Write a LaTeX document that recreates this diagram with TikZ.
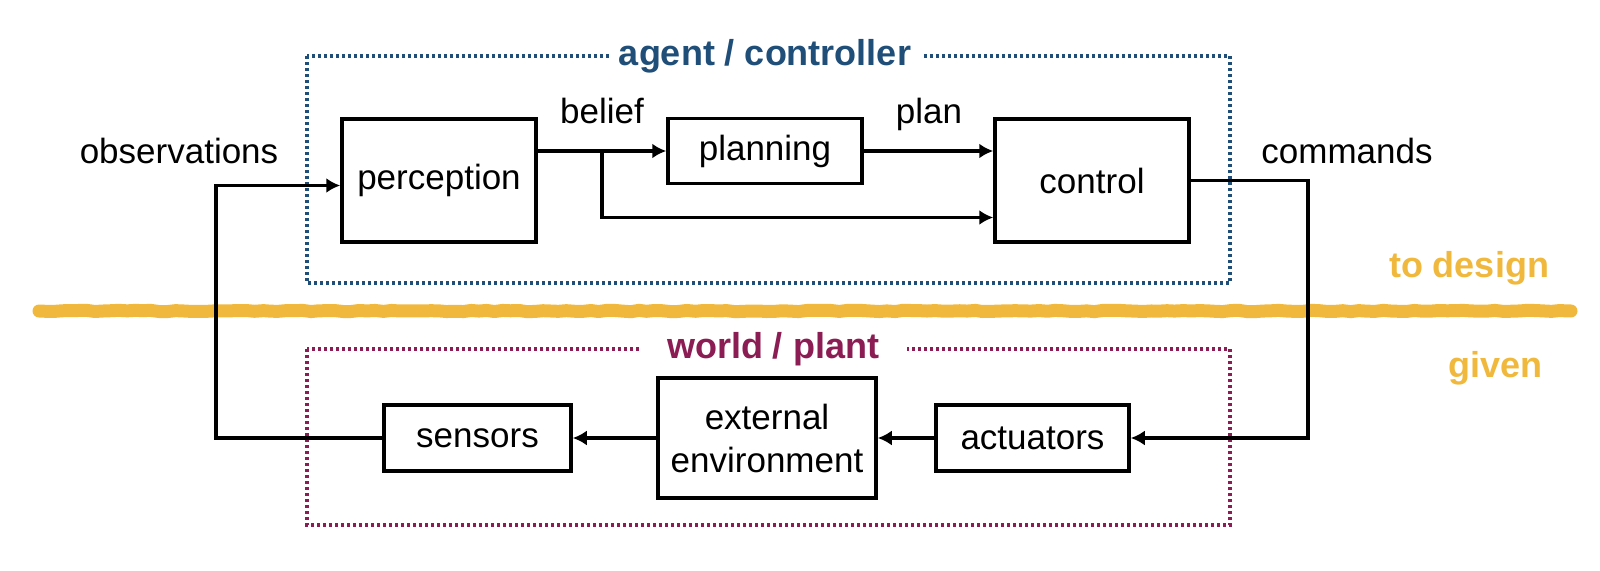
\documentclass[tikz,border=0pt]{standalone}
\usepackage{fontspec}
\setmainfont{Liberation Sans}
\usepackage{tikz}
\usetikzlibrary{arrows.meta}
\usetikzlibrary{decorations.pathmorphing}

\definecolor{agentblue}{HTML}{1F4E79}
\definecolor{worldred}{HTML}{8C1D54}
\definecolor{designyellow}{HTML}{F0B93E}

\begin{document}
\begin{tikzpicture}[x=1pt,y=-1pt]
		\tikzset{block/.style={shape = rectangle, draw, line width = 3.5pt, inner sep = 0pt, align = center, font = \fontsize{35}{43}\selectfont}}
		\tikzset{edge/.style={->, > = {Latex[length = 14pt, width = 15pt]}, line width = 3.5pt}}
		\tikzset{sig/.style={anchor = base, inner sep = 0pt, font = \fontsize{35}{43}\selectfont}}
		\tikzset{boxtitle/.style={fill = white, inner ysep = 0pt, font = \fontsize{36}{43}\selectfont\bfseries}}
		\tikzset{frame/.style={line width = 3.2pt, dash pattern = on 3pt off 3pt}}
		\tikzset{divider/.style={designyellow, line width = 13pt, line cap = round, line join = round,
				decoration={random steps,
					segment length = 8pt,
					amplitude = 0.7pt}, decorate}}
		\useasboundingbox (0, 0) rectangle (1600, 570);
		%frames
		\draw[divider] (39, 311) -- (1571, 311);
		\draw[frame, agentblue] (307, 56) rectangle (1230, 283);
		\draw[frame, worldred] (307, 349) rectangle (1230, 525);
		\node[boxtitle, text = agentblue, inner xsep = 10pt] (agent) at (765, 56) {agent / controller};
		\node[boxtitle, text = worldred, inner xsep = 28pt] (world) at (773, 349) {world / plant};
		\node[sig, font = \fontsize{36}{43}\selectfont\bfseries, text = designyellow] (design) at (1469, 277) {to design};
		\node[sig, font = \fontsize{36}{43}\selectfont\bfseries, text = designyellow] (given) at (1495, 377) {given};
		%blocks
		\node[block, minimum width = 194pt, minimum height = 123pt] (perception) at (439, 180.5) {perception};
		\node[block, minimum width = 194pt, minimum height = 65pt] (planning) at (765, 151) {planning};
		\node[block, minimum width = 194pt, minimum height = 123pt] (control) at (1092, 180.5) {control};
		\node[block, minimum width = 187pt, minimum height = 66pt] (sensors) at (477.5, 438) {sensors};
		\node[block, minimum width = 218pt, minimum height = 120pt] (env) at (767, 438) {external\\environment};
		\node[block, minimum width = 193pt, minimum height = 66pt] (actuators) at (1032.5, 438) {actuators};
		%signals
		\node[sig] (obs) at (179, 163) {observations};
		\node[sig] (belief) at (602, 123) {belief};
		\node[sig] (plan) at (929, 123) {plan};
		\node[sig] (cmd) at (1347, 163) {commands};
		%edges
		\coordinate (split) at (602, 151);
		\coordinate (obsturn) at (216, 438);
		\coordinate (cmdturn) at (1308, 438);
		\draw[edge] (perception.east |- split) -- (planning.west);
		\draw[edge] (split) |- ([yshift=-37pt]control.west);
		\draw[edge] (planning.east) -- (planning.east -| control.west);
		\draw[edge] (sensors.west) -- (obsturn) |- ([yshift=-5pt]perception.west);
		\draw[edge] (control.east) -| (cmdturn) -- (actuators.east);
		\draw[edge] (actuators.west) -- (env.east);
		\draw[edge] (env.west) -- (sensors.east);
\end{tikzpicture}
\end{document}
